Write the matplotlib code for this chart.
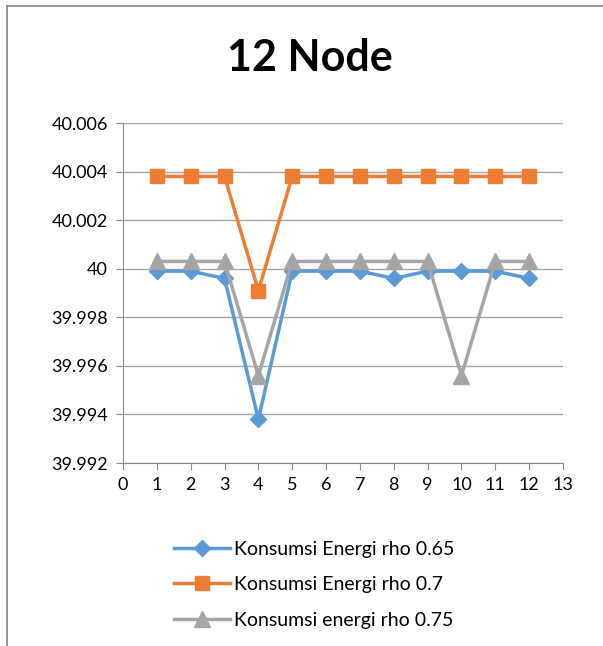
import matplotlib
matplotlib.use("Agg")
import matplotlib.pyplot as plt
from matplotlib.lines import Line2D

x = [1, 2, 3, 4, 5, 6, 7, 8, 9, 10, 11, 12]
rho_065 = [39.9999, 39.9999, 39.9996, 39.9938, 39.9999, 39.9999, 39.9999, 39.9996, 39.9999, 39.9999, 39.9999, 39.9996]
rho_07 = [40.0038, 40.0038, 40.0038, 39.9991, 40.0038, 40.0038, 40.0038, 40.0038, 40.0038, 40.0038, 40.0038, 40.0038]
rho_075 = [40.0003, 40.0003, 40.0003, 39.9956, 40.0003, 40.0003, 40.0003, 40.0003, 40.0003, 39.9956, 40.0003, 40.0003]
labels = ["Konsumsi Energi rho 0.65", "Konsumsi Energi rho 0.7", "Konsumsi energi rho 0.75"]
yticks = [39.992, 39.994, 39.996, 39.998, 40, 40.002, 40.004, 40.006]
ytick_labels = ["39.992", "39.994", "39.996", "39.998", "40", "40.002", "40.004", "40.006"]
xticks = list(range(0, 14))

plt.rcParams['font.family'] = ['Lato', 'DejaVu Sans']

fig = plt.figure(figsize=(6.03, 6.46), dpi=100)
# chart frame (only left and top edges visible in the crop)
fig.add_artist(Line2D([7/603, 7/603], [0, 1 - 6/646], transform=fig.transFigure,
                      color='#8c8c8c', linewidth=1.3))
fig.add_artist(Line2D([7/603, 1], [1 - 6/646, 1 - 6/646], transform=fig.transFigure,
                      color='#8c8c8c', linewidth=1.3))

ax = fig.add_axes([123/603, 1 - 463/646, 440/603, 340/646])
ax.plot(x, rho_065, color='#5b9bd5', linewidth=2.5, marker='D', markersize=8, label=labels[0])
ax.plot(x, rho_07, color='#ed7d31', linewidth=2.5, marker='s', markersize=10, label=labels[1])
ax.plot(x, rho_075, color='#a5a5a5', linewidth=2.5, marker='^', markersize=11, label=labels[2])

ax.set_xlim(0, 13)
ax.set_ylim(39.992, 40.006)
ax.set_xticks(xticks)
ax.set_xticklabels([str(v) for v in xticks], fontsize=13)
ax.set_yticks(yticks)
ax.set_yticklabels(ytick_labels, fontsize=13)
ax.grid(axis='y', color='#a6a6a6', linewidth=1)
ax.set_axisbelow(True)
for s in ['top', 'right']:
    ax.spines[s].set_visible(False)
for s in ['left', 'bottom']:
    ax.spines[s].set_color('#8c8c8c')
ax.tick_params(axis='x', direction='out', length=5, color='#8c8c8c', pad=5)
ax.tick_params(axis='y', direction='out', length=5, color='#8c8c8c', pad=6)

fig.text(310/603, 1 - 58/646, "12 Node", ha='center', va='center', fontsize=31, fontweight='bold')

fig.legend(loc='upper left', bbox_to_anchor=(166/603, 1 - 533/646), frameon=False,
           fontsize=14, handlelength=2.9, labelspacing=0.95, handletextpad=0.2,
           borderaxespad=0)

fig.savefig("out.png", dpi=100)
